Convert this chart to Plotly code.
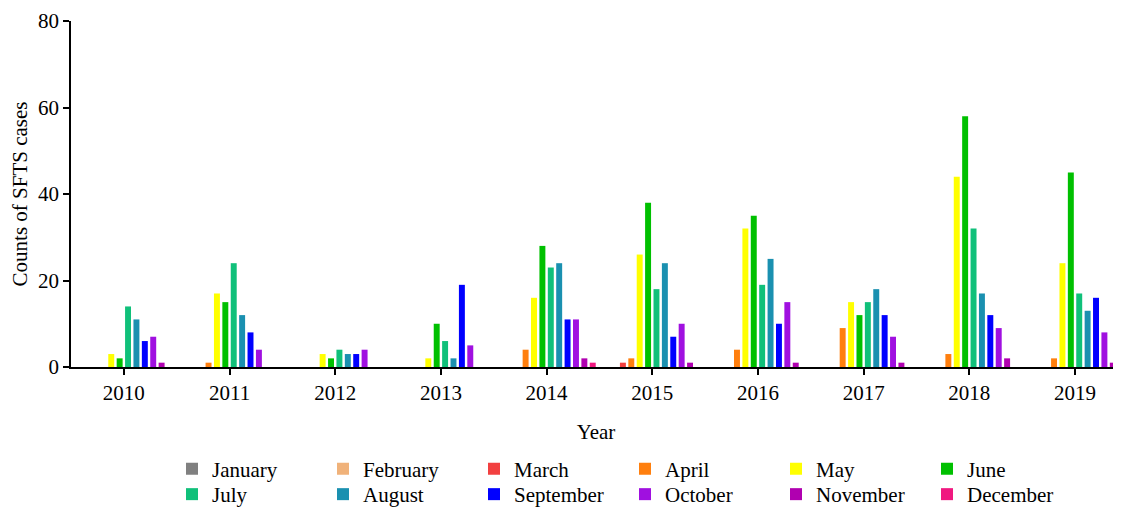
import plotly.graph_objects as go

years = ["2010", "2011", "2012", "2013", "2014", "2015", "2016", "2017", "2018", "2019"]
months = ["January", "February", "March", "April", "May", "June",
          "July", "August", "September", "October", "November", "December"]

january = [0, 0, 0, 0, 0, 0, 0, 0, 0, 0]
february = [0, 0, 0, 0, 0, 0, 0, 0, 0, 0]
march = [0, 0, 0, 0, 0, 1, 0, 0, 0, 0]
april = [0, 1, 0, 0, 4, 2, 4, 9, 3, 2]
may = [3, 17, 3, 2, 16, 26, 32, 15, 44, 24]
june = [2, 15, 2, 10, 28, 38, 35, 12, 58, 45]
july = [14, 24, 4, 6, 23, 18, 19, 15, 32, 17]
august = [11, 12, 3, 2, 24, 24, 25, 18, 17, 13]
september = [6, 8, 3, 19, 11, 7, 10, 12, 12, 16]
october = [7, 4, 4, 5, 11, 10, 15, 7, 9, 8]
november = [1, 0, 0, 0, 2, 1, 1, 1, 2, 1]
december = [0, 0, 0, 0, 1, 0, 0, 0, 0, 0]

series = [january, february, march, april, may, june,
          july, august, september, october, november, december]
colors = ["#808080", "#F0B27A", "#F24040", "#FF7F0E", "#FFFF00", "#00C000",
          "#10C07A", "#1A90B0", "#0000FF", "#A010E0", "#B000B0", "#F01880"]

FONT = "Liberation Serif, Times New Roman, serif"

fig = go.Figure()
for i, (name, vals, col) in enumerate(zip(months, series, colors)):
    fig.add_trace(go.Bar(
        x=years, y=vals, name=name, marker=dict(color=col, line=dict(width=0)),
        legend="legend" if i < 6 else "legend2",
    ))

leg_common = dict(orientation="h", xanchor="left", yanchor="middle",
                  font=dict(family=FONT, size=21, color="black"),
                  entrywidth=106, entrywidthmode="pixels",
                  bgcolor="rgba(0,0,0,0)", traceorder="normal",
                  itemclick=False, itemdoubleclick=False)

# page body has an 8px margin, so the figure is sized to end at the window edge
W, H = 1113, 499
ML, MT, MB = 63, 13, 140
PW = W - ML
PH = H - MT - MB

fig.update_layout(
    width=W, height=H,
    margin=dict(l=ML, r=0, t=MT, b=MB, autoexpand=False),
    paper_bgcolor="white", plot_bgcolor="white",
    barmode="group", bargap=0.047, bargroupgap=0.29,
    font=dict(family=FONT, size=20, color="black"),
    showlegend=True,
    legend=dict(x=101 / PW, y=-102 / PH, **leg_common),
    legend2=dict(x=101 / PW, y=-127.5 / PH, **leg_common),
    xaxis=dict(
        type="category", range=[-0.5, 9.435], automargin=False,
        showline=True, linecolor="black", linewidth=1.5,
        ticks="outside", ticklen=6, tickwidth=1.5, tickcolor="black",
        tickfont=dict(family=FONT, size=21, color="black"),
        title=dict(text="Year", font=dict(family=FONT, size=21, color="black"), standoff=20),
        showgrid=False, zeroline=False,
    ),
    yaxis=dict(
        range=[0, 80], tickvals=[0, 20, 40, 60, 80], automargin=False,
        showline=True, linecolor="black", linewidth=1.5,
        ticks="outside", ticklen=6, tickwidth=1.5, tickcolor="black",
        tickfont=dict(family=FONT, size=21, color="black"),
        title=dict(text="Counts of SFTS cases", font=dict(family=FONT, size=21, color="black"), standoff=8),
        showgrid=False, zeroline=False,
    ),
)

fig.write_html("out.html")
